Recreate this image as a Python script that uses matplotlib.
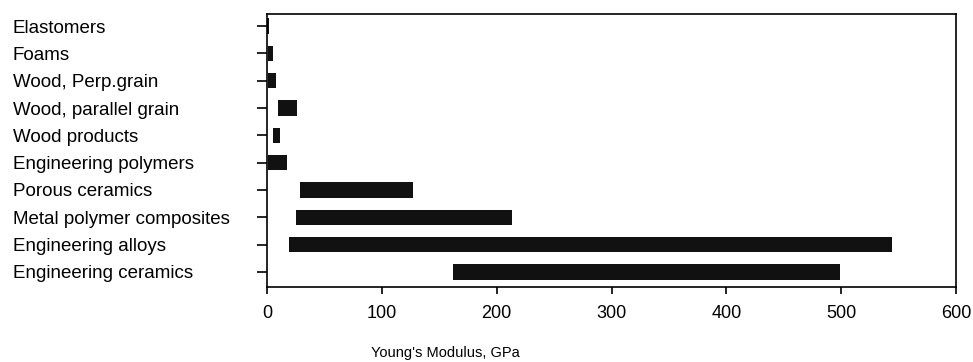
import matplotlib
matplotlib.use("Agg")
import matplotlib.pyplot as plt

plt.rcParams['font.family'] = ['Liberation Sans', 'DejaVu Sans']

# Young's modulus ranges, GPa
materials = ["Elastomers", "Foams", "Wood, Perp.grain", "Wood, parallel grain",
             "Wood products", "Engineering polymers", "Porous ceramics",
             "Metal polymer composites", "Engineering alloys", "Engineering ceramics"]
e_low = [0.01, 0.5, 0.5, 10, 5, 0.7, 29, 25, 19, 162]
e_high = [1.5, 5, 8, 26, 11, 17, 127, 213, 544, 499]
xticks = [0, 100, 200, 300, 400, 500, 600]

fig = plt.figure(figsize=(9.73, 3.62), dpi=100)
ax = fig.add_axes([267/973, 1 - 287/362, (956 - 267)/973, (287 - 14)/362])

pos = list(range(len(materials)))
widths = [h - l for l, h in zip(e_low, e_high)]
ax.barh(pos, widths, left=e_low, height=0.57, color="#111111")

ax.set_xlim(0, 600)
ax.set_ylim(len(materials) - 1 + 0.55, -0.44)
ax.set_xticks(xticks)
ax.set_xticklabels([str(t) for t in xticks], fontsize=13)
ax.set_yticks(pos)
ax.set_yticklabels(materials, fontsize=13.5, ha="left")

# labels left aligned at the figure edge
ax.tick_params(axis="y", direction="out", length=7.2, width=1.2, pad=175.7)
ax.tick_params(axis="x", direction="out", length=5, width=1.2, pad=8)

for s in ax.spines.values():
    s.set_linewidth(1.2)

ax.set_xlabel("Young's Modulus, GPa", fontsize=10.5)
ax.xaxis.set_label_coords((445 - 267) / (956 - 267), -0.215)

fig.savefig("out.png", dpi=100)
